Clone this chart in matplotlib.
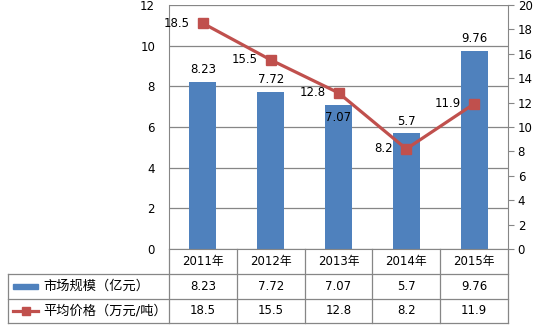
import matplotlib
matplotlib.use("Agg")
import matplotlib.pyplot as plt
from matplotlib.lines import Line2D
from matplotlib.patches import Rectangle
from matplotlib import transforms

plt.rcParams['font.family'] = ['DejaVu Sans', 'Noto Sans CJK SC']

years = ["2011年", "2012年", "2013年", "2014年", "2015年"]
market = [8.23, 7.72, 7.07, 5.7, 9.76]
price = [18.5, 15.5, 12.8, 8.2, 11.9]
market_name = "市场规模（亿元）"
price_name = "平均价格（万元/吨）"
left_ticks = [0, 2, 4, 6, 8, 10, 12]
right_ticks = [0, 2, 4, 6, 8, 10, 12, 14, 16, 18, 20]

W, H = 539, 325
fig = plt.figure(figsize=(W / 100, H / 100), dpi=100)

def fx(px):
    return px / W

def fy(py):
    return 1 - py / H

L, R, T, B = 169, 508, 5, 249
ax = fig.add_axes([fx(L), fy(B), fx(R - L), (B - T) / H])
ax2 = ax.twinx()

BLUE = "#4F81BD"
RED = "#C0504D"
GRID = "#868686"
FS = 8.5

x = list(range(len(years)))
ax.bar(x, market, width=0.4, color=BLUE, zorder=2)
ax.set_xlim(-0.5, len(years) - 0.5)
ax.set_ylim(0, 12)
ax.set_yticks(left_ticks)
ax.set_yticklabels([str(t) for t in left_ticks], fontsize=FS)
ax.tick_params(axis='y', length=0, pad=10)
ax.set_xticks([])
ax.grid(axis='y', color=GRID, linewidth=0.9, zorder=0)
ax.set_axisbelow(True)
for s in ['top', 'right']:
    ax.spines[s].set_visible(False)
ax.spines['left'].set_color(GRID)
ax.spines['bottom'].set_color(GRID)

for i, (xi, v) in enumerate(zip(x, market)):
    if i == 2:
        # label placed inside the bar top (as in the reference)
        ax.annotate(f"{v:g}", (xi, v), xytext=(0, -9), textcoords='offset points',
                    ha='center', va='center', fontsize=FS, zorder=5)
    else:
        ax.annotate(f"{v:g}", (xi, v), xytext=(0, 4), textcoords='offset points',
                    ha='center', va='bottom', fontsize=FS)

ax2.plot(x, price, color=RED, linewidth=2.3, marker='s', markersize=7, zorder=3)
ax2.set_ylim(0, 20)
ax2.set_yticks(right_ticks)
ax2.set_yticklabels([str(t) for t in right_ticks], fontsize=FS)
ax2.tick_params(axis='y', length=4, color=GRID, pad=3)
for s in ['top', 'left', 'bottom']:
    ax2.spines[s].set_visible(False)
ax2.spines['right'].set_color(GRID)
for xi, v in zip(x, price):
    ax2.annotate(f"{v:g}", (xi, v), xytext=(-9.5, 0), textcoords='offset points',
                 ha='right', va='center', fontsize=FS)

# data table below the chart
lc = GRID
lw = 0.9
r0, r1, r2, r3 = 249, 274, 299, 323
colw = (R - L) / len(years)
for py in (r1, r2, r3):
    fig.add_artist(Line2D([fx(8), fx(R)], [fy(py), fy(py)], color=lc, lw=lw))
fig.add_artist(Line2D([fx(8), fx(8)], [fy(r1), fy(r3)], color=lc, lw=lw))
for k in range(len(years) + 1):
    xx = L + k * colw
    fig.add_artist(Line2D([fx(xx), fx(xx)], [fy(r0), fy(r3)], color=lc, lw=lw))

bt = transforms.blended_transform_factory(ax.transData, fig.transFigure)
for xi, yr, m, p in zip(x, years, market, price):
    fig.text(xi, fy((r0 + r1) / 2), yr, transform=bt, ha='center', va='center', fontsize=FS)
    fig.text(xi, fy((r1 + r2) / 2), f"{m:g}", transform=bt, ha='center', va='center', fontsize=FS)
    fig.text(xi, fy((r2 + r3) / 2), f"{p:g}", transform=bt, ha='center', va='center', fontsize=FS)

# legend keys inside the table
yc1 = (r1 + r2) / 2
fig.add_artist(Rectangle((fx(13), fy(yc1 + 2.5)), fx(25), 5 / H, color=BLUE,
                         transform=fig.transFigure))
fig.text(fx(43), fy(yc1), market_name, ha='left', va='center', fontsize=9.5)
yc2 = (r2 + r3) / 2
fig.add_artist(Line2D([fx(13), fx(38)], [fy(yc2), fy(yc2)], color=RED, lw=2.3))
fig.add_artist(Line2D([fx(25.5)], [fy(yc2)], color=RED, marker='s', markersize=5.5, lw=0))
fig.text(fx(43), fy(yc2), price_name, ha='left', va='center', fontsize=9.5)

fig.savefig("out.png", dpi=100)
